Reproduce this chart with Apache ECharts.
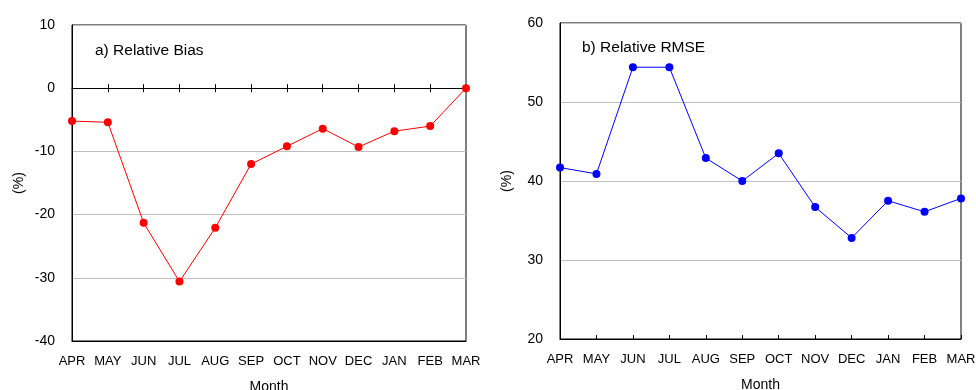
<!DOCTYPE html>
<html>
<head>
<meta charset="utf-8">
<script src="https://cdn.jsdelivr.net/npm/echarts@6/dist/echarts.min.js"></script>
<style>
  html, body { margin: 0; padding: 0; background: #fff; }
  #chart { width: 976px; height: 390px; }
</style>
</head>
<body>
<div id="chart"></div>
<script>
// Monthly verification statistics (April to March)
const months = ['APR', 'MAY', 'JUN', 'JUL', 'AUG', 'SEP', 'OCT', 'NOV', 'DEC', 'JAN', 'FEB', 'MAR'];
const relativeBias = [-5.2, -5.4, -21.3, -30.6, -22.1, -12.0, -9.2, -6.4, -9.3, -6.8, -6.0, 0.0];
const relativeRmse = [41.7, 40.9, 54.4, 54.4, 42.9, 40.0, 43.5, 36.7, 32.8, 37.5, 36.1, 37.8];
const biasTicks = { min: -40, max: 10, step: 10 };
const rmseTicks = { min: 20, max: 60, step: 10 };

const FONT = 'Liberation Sans, Arial, sans-serif';
const monthText = { color: '#000', fontFamily: FONT, fontSize: 13 };
const valueText = { color: '#000', fontFamily: FONT, fontSize: 14 };

function bottomAxis(gridIndex, withTicks) {
  return {
    gridIndex: gridIndex,
    type: 'category',
    boundaryGap: false,
    data: months,
    axisLine: { onZero: false, lineStyle: { color: '#000', width: 1 } },
    axisTick: { show: withTicks, inside: true, length: 4, interval: 0, lineStyle: { color: '#000' } },
    axisLabel: Object.assign({ interval: 0, margin: 14 }, monthText),
    splitLine: { show: false },
    name: 'Month',
    nameLocation: 'middle',
    nameGap: 39,
    nameTextStyle: valueText
  };
}

// Zero line of the bias panel with ticks crossing it (one axis up, one down)
function zeroAxis(inside, showLine) {
  return {
    gridIndex: 0,
    type: 'category',
    boundaryGap: false,
    data: months,
    position: 'bottom',
    axisLine: { show: showLine, onZero: true, onZeroAxisIndex: 0, lineStyle: { color: '#000', width: 1 } },
    axisTick: { show: true, inside: inside, length: 4, interval: 0, lineStyle: { color: '#000' } },
    axisLabel: { show: false },
    splitLine: { show: false }
  };
}

function valueAxis(gridIndex, t) {
  return {
    gridIndex: gridIndex,
    type: 'value',
    min: t.min,
    max: t.max,
    interval: t.step,
    axisLine: { show: true, onZero: false, lineStyle: { color: '#000', width: 1 } },
    axisTick: { show: false },
    axisLabel: Object.assign({ margin: 17 }, valueText),
    splitLine: { show: true, lineStyle: { color: '#c0c0c0', width: 1 } },
    name: '(%)',
    nameLocation: 'middle',
    nameRotate: 90,
    nameGap: 46,
    nameTextStyle: valueText
  };
}

const titleText = { color: '#000', fontFamily: FONT, fontSize: 15.5, fontWeight: 'normal' };
const gridBase = { show: true, borderColor: '#000', borderWidth: 1, backgroundColor: 'transparent', containLabel: false, outerBoundsMode: 'none' };

const chart = echarts.init(document.getElementById('chart'), null, { renderer: 'canvas' });
chart.setOption({
  animation: false,
  backgroundColor: '#fff',
  title: [
    { text: 'a) Relative Bias', left: 95, top: 43, textStyle: titleText, padding: 0 },
    { text: 'b) Relative RMSE', left: 582, top: 40, textStyle: titleText, padding: 0 }
  ],
  grid: [
    Object.assign({ left: 72, top: 25, width: 394, height: 316 }, gridBase),
    Object.assign({ left: 560, top: 23, width: 401, height: 316 }, gridBase)
  ],
  xAxis: [
    bottomAxis(0, false),
    bottomAxis(1, true),
    zeroAxis(true, true),
    zeroAxis(false, false)
  ],
  yAxis: [
    valueAxis(0, biasTicks),
    valueAxis(1, rmseTicks)
  ],
  series: [
    {
      name: 'Relative Bias',
      type: 'line',
      xAxisIndex: 0,
      yAxisIndex: 0,
      data: relativeBias,
      clip: false,
      symbol: 'circle',
      symbolSize: 8,
      itemStyle: { color: '#ff0000' },
      lineStyle: { color: '#ff0000', width: 1 },
      z: 5
    },
    {
      name: 'Relative RMSE',
      type: 'line',
      xAxisIndex: 1,
      yAxisIndex: 1,
      data: relativeRmse,
      clip: false,
      symbol: 'circle',
      symbolSize: 8,
      itemStyle: { color: '#0000ff' },
      lineStyle: { color: '#0000ff', width: 1 },
      z: 5
    }
  ]
});
</script>
</body>
</html>
